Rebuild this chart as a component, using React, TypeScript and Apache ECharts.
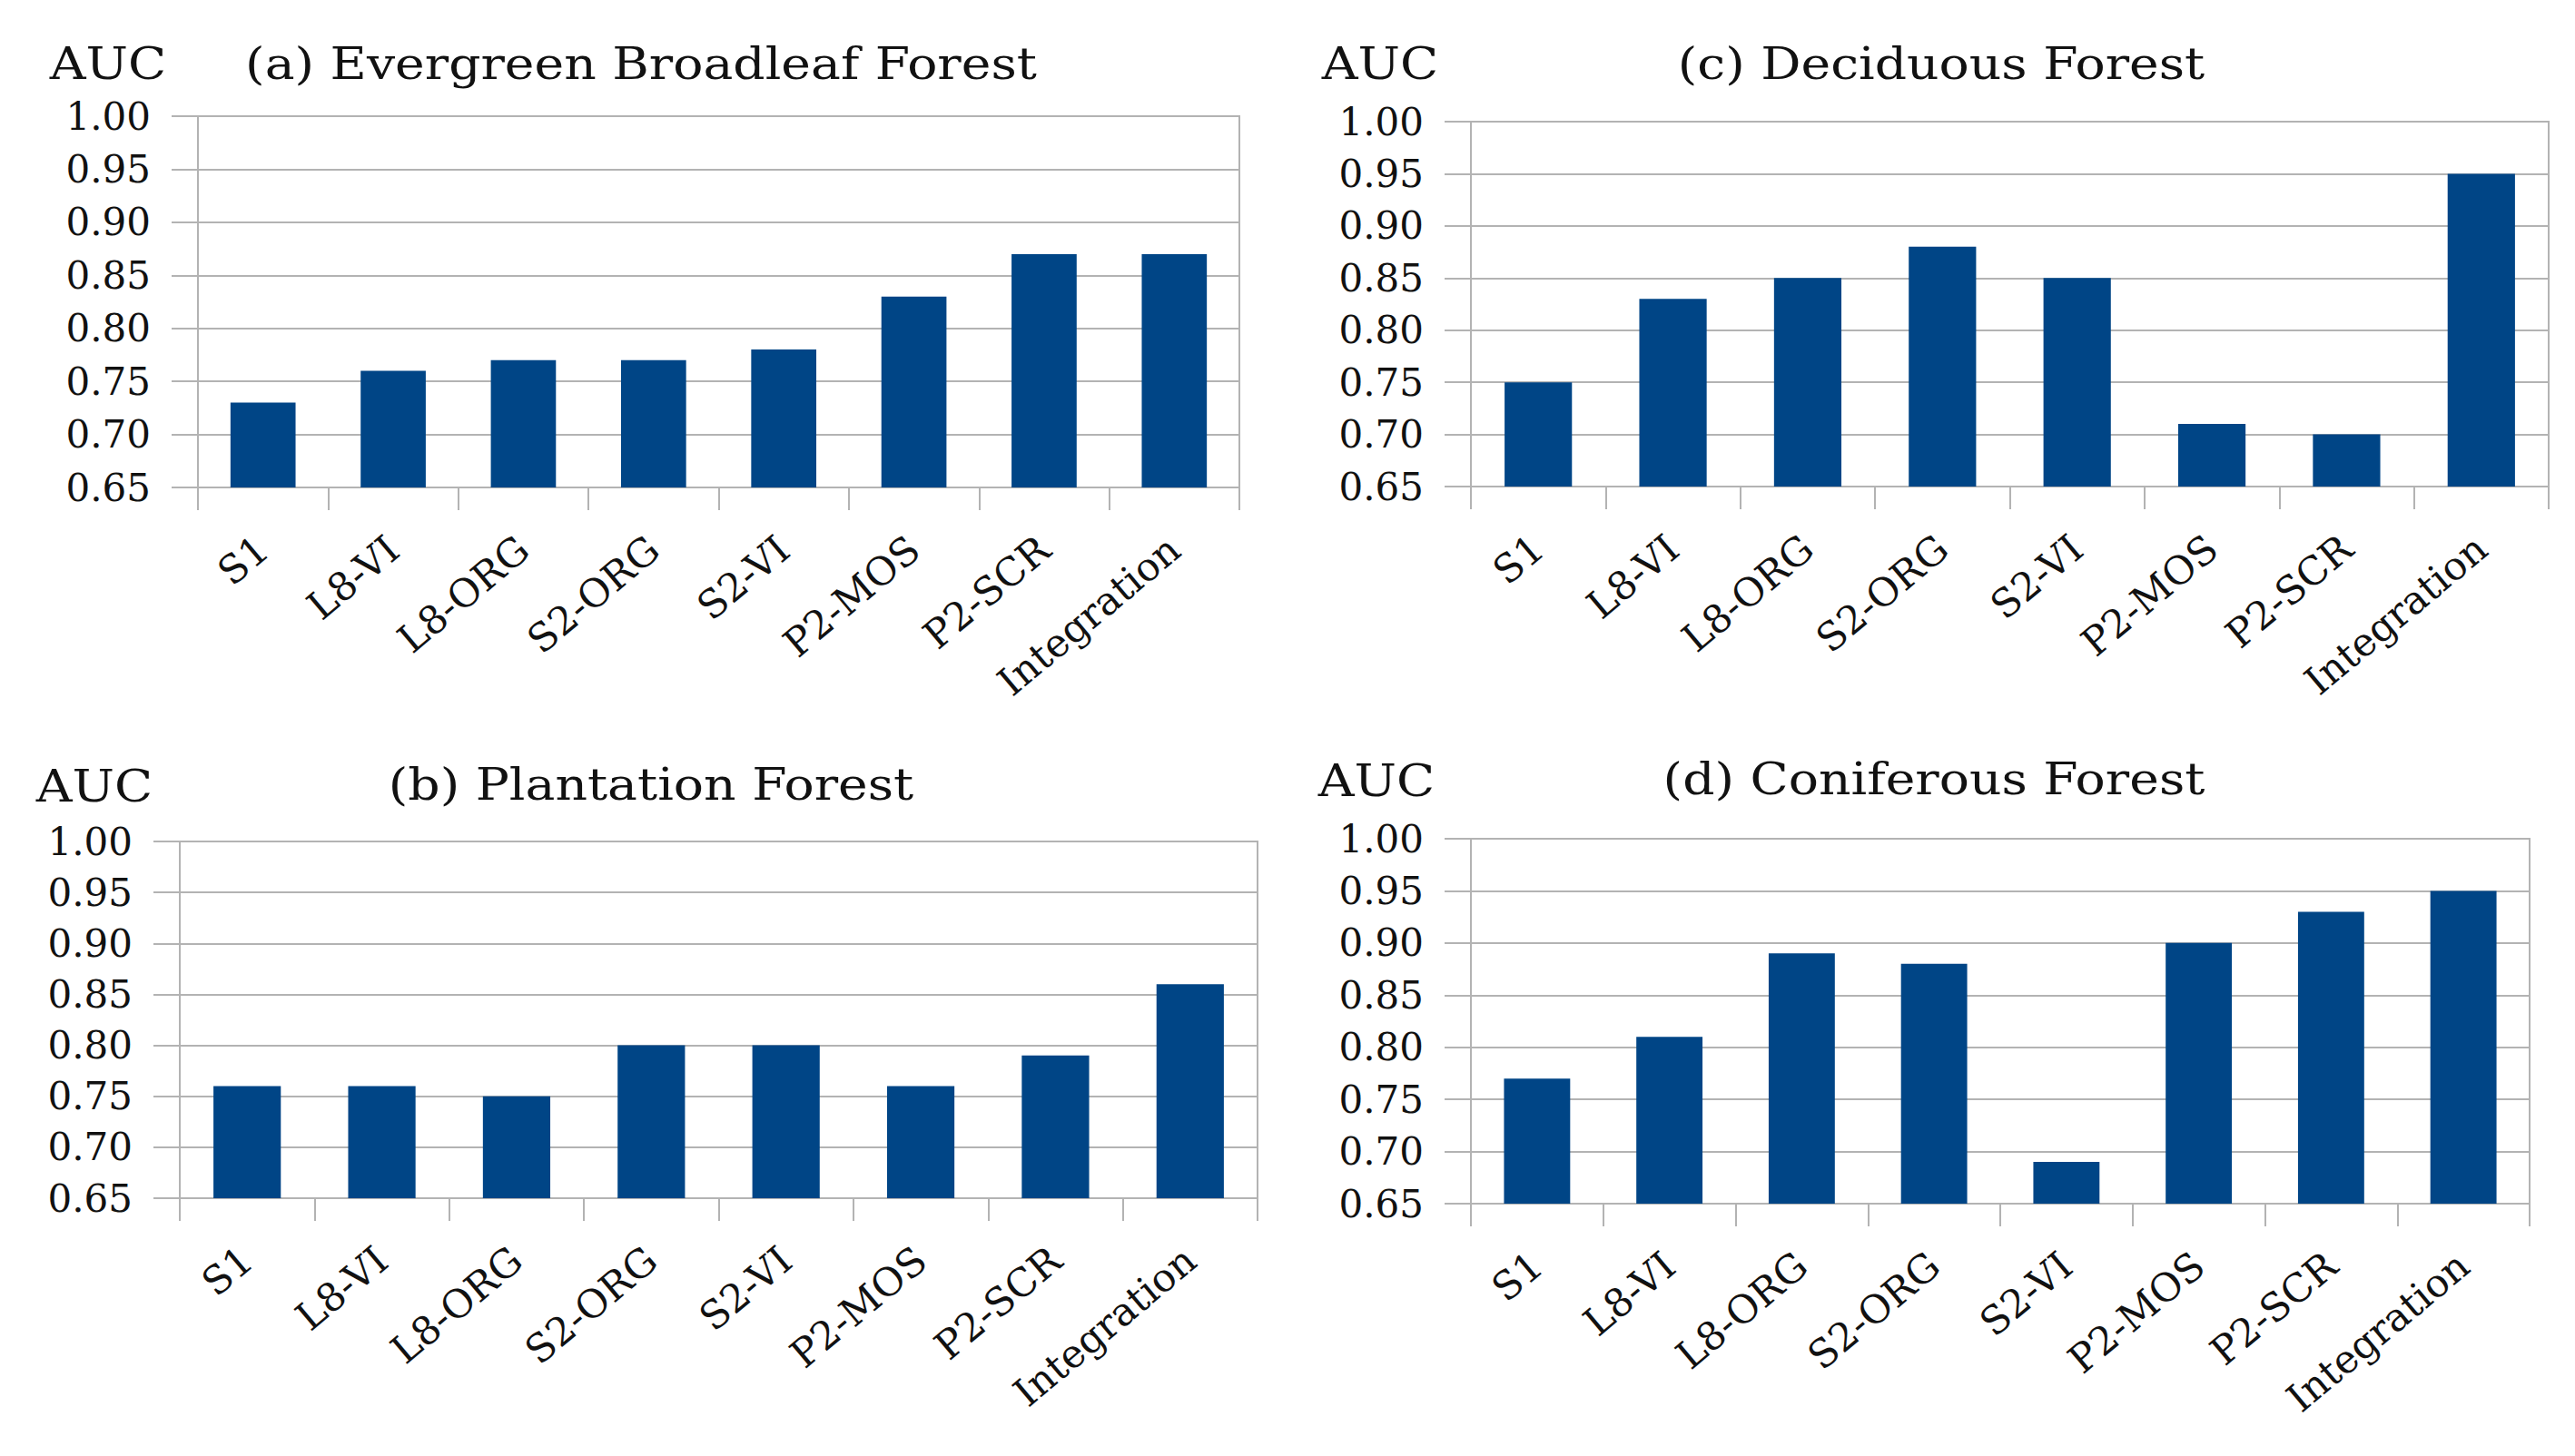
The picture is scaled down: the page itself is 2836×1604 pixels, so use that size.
import { useEffect, useRef, type JSX } from "react";
import * as echarts from "echarts";

const categories = [
  "S1",
  "L8-VI",
  "L8-ORG",
  "S2-ORG",
  "S2-VI",
  "P2-MOS",
  "P2-SCR",
  "Integration",
];

const evergreenAuc = [0.73, 0.76, 0.77, 0.77, 0.78, 0.83, 0.87, 0.87];
const deciduousAuc = [0.75, 0.83, 0.85, 0.88, 0.85, 0.71, 0.7, 0.95];
const plantationAuc = [0.76, 0.76, 0.75, 0.8, 0.8, 0.76, 0.79, 0.86];
const coniferousAuc = [0.77, 0.81, 0.89, 0.88, 0.69, 0.9, 0.93, 0.95];

const panelTitles = [
  "(a) Evergreen Broadleaf Forest",
  "(c) Deciduous Forest",
  "(b) Plantation Forest",
  "(d) Coniferous Forest",
];
const yAxisName = "AUC";
const yMin = 0.65;
const yMax = 1.0;
const yStep = 0.05;

const FONT = "'DejaVu Serif', serif";
const GREY = "#b3b3b3";
const BLUE = "#004586";
const INK = "#111111";

// plot boxes in page pixels, one per panel
const panels = [
  { left: 218, top: 128, width: 1147, height: 409, auc: [119, 70], title: [706, 70] },
  { left: 1620, top: 134, width: 1187, height: 402, auc: [1520, 70], title: [2138, 70] },
  { left: 198, top: 927, width: 1187, height: 393, auc: [104, 866], title: [717, 864] },
  { left: 1620, top: 924, width: 1166, height: 402, auc: [1516, 860], title: [2130, 858] },
];

function App(): JSX.Element {
  const chartRef = useRef<HTMLDivElement>(null);

  useEffect(() => {
    if (!chartRef.current) return;
    const chart = echarts.init(chartRef.current, undefined, { renderer: "svg" });
    const seriesData = [evergreenAuc, deciduousAuc, plantationAuc, coniferousAuc];

    const label = (text: string, x: number, y: number) => ({
      type: "text",
      x,
      y,
      scaleX: 1.15,
      style: {
        text,
        x: 0,
        y: 0,
        fill: INK,
        font: `48px ${FONT}`,
        textAlign: "center",
        textVerticalAlign: "middle",
      },
    });

    chart.setOption({
      animation: false,
      backgroundColor: "#ffffff",
      grid: panels.map((p) => ({
        left: p.left,
        top: p.top,
        width: p.width,
        height: p.height,
        show: true,
        borderColor: GREY,
        borderWidth: 2,
        backgroundColor: "transparent",
      })),
      xAxis: panels.map((_, i) => ({
        type: "category",
        gridIndex: i,
        data: categories,
        boundaryGap: true,
        axisLine: { show: true, lineStyle: { color: GREY, width: 2 } },
        axisTick: {
          show: true,
          length: 25,
          interval: 0,
          lineStyle: { color: GREY, width: 2 },
        },
        axisLabel: {
          interval: 0,
          rotate: 40,
          margin: 62,
          color: INK,
          fontFamily: FONT,
          fontSize: 43,
        },
      })),
      yAxis: panels.map((_, i) => ({
        type: "value",
        gridIndex: i,
        min: yMin,
        max: yMax,
        interval: yStep,
        axisLine: { show: true, lineStyle: { color: GREY, width: 2 } },
        axisTick: { show: true, length: 29, lineStyle: { color: GREY, width: 2 } },
        splitLine: { show: true, lineStyle: { color: GREY, width: 2 } },
        axisLabel: {
          margin: 52,
          color: INK,
          fontFamily: FONT,
          fontSize: 42,
          formatter: (v: number) => v.toFixed(2),
        },
      })),
      series: seriesData.map((data, i) => ({
        type: "bar",
        xAxisIndex: i,
        yAxisIndex: i,
        data,
        barWidth: "50%",
        itemStyle: { color: BLUE },
      })),
      graphic: panels.flatMap((p, i) => [
        label(yAxisName, p.auc[0], p.auc[1]),
        label(panelTitles[i], p.title[0], p.title[1]),
      ]),
    });

    return () => {
      chart.dispose();
    };
  }, []);

  return (
    <div
      ref={chartRef}
      style={{ position: "fixed", left: 0, top: 0, width: "2836px", height: "1604px" }}
    />
  );
}

export default App;
